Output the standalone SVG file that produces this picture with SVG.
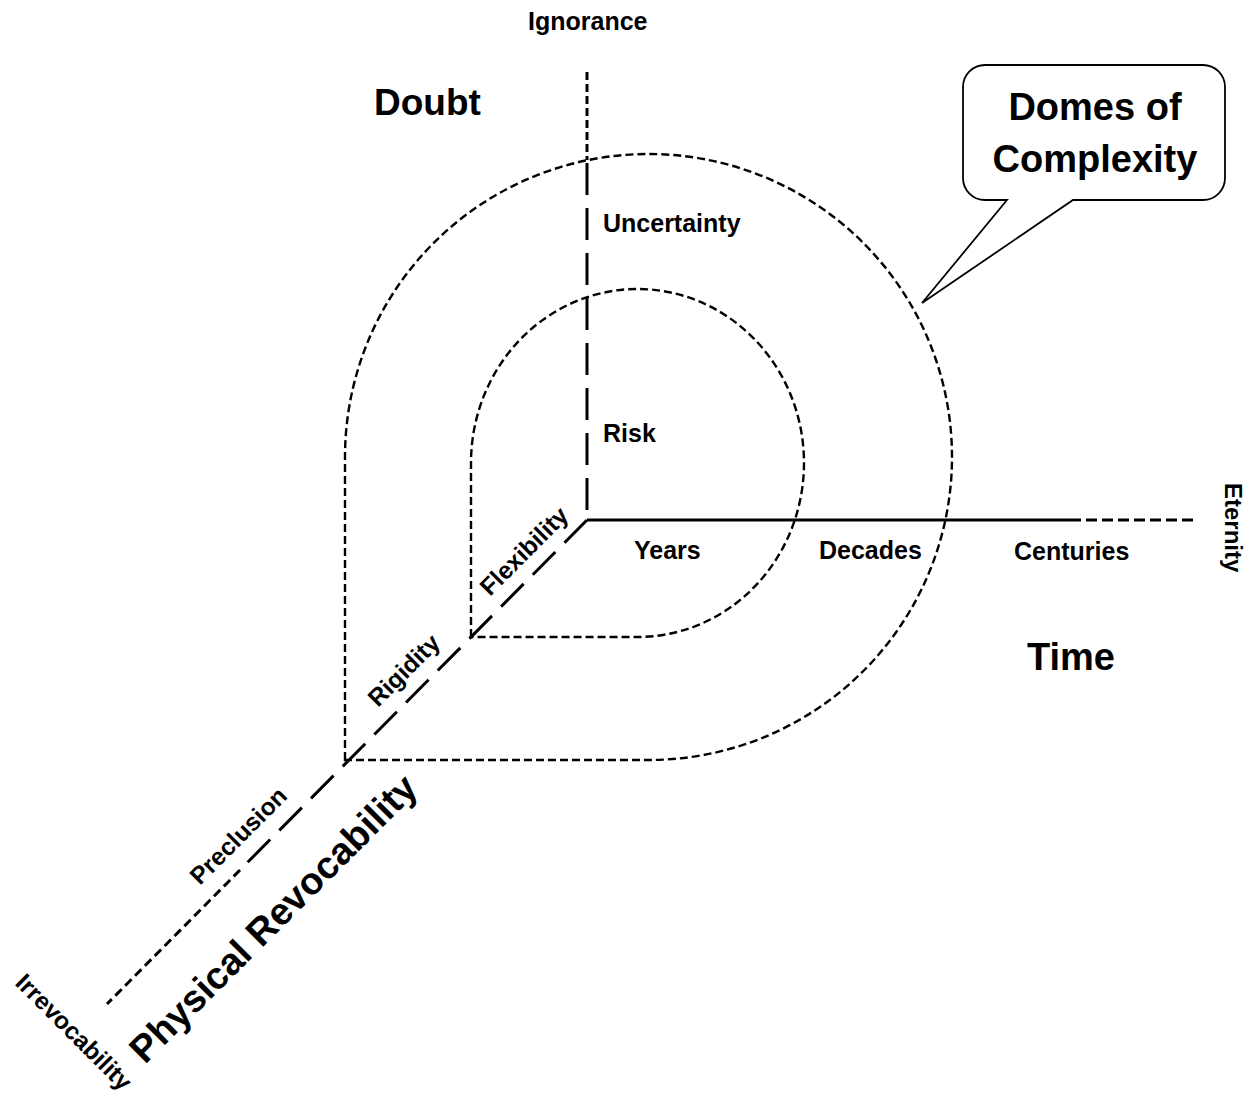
<svg xmlns="http://www.w3.org/2000/svg" width="1259" height="1100" viewBox="0 0 1259 1100">
  <style>
    text { font-family: "Liberation Sans", Arial, sans-serif; font-weight: bold; fill: #000; }
    .big { font-size: 38px; }
    .lbl { font-size: 25px; }
    .dlbl { font-size: 24.5px; }
    .axis { fill: none; stroke: #000; stroke-width: 3; }
    .fine { stroke-dasharray: 8 4; }
    .long { stroke-dasharray: 32 13; }
    .dome { fill: none; stroke: #000; stroke-width: 2.4; stroke-dasharray: 8 4; }
    .bubble { fill: #fff; stroke: #000; stroke-width: 1.8; }
  </style>
  <rect width="1259" height="1100" fill="#fff"/>

  <!-- complexity domes: circles with a squared corner on the flexibility axis -->
  <g id="domes">
    <path id="dome-outer" class="dome" d="M345,760 L345,457 A303.5,303 0 1 1 648.5,760 Z"/>
    <path id="dome-inner" class="dome" d="M471,637 L471,463 A166.5,174 0 1 1 637.5,637 Z"/>
  </g>

  <!-- three axes from the common origin -->
  <g id="connectors">
    <path class="axis fine" d="M587,72 L587,160"/>
    <path class="axis long" d="M587,163 L587,520"/>
    <path class="axis" d="M587,520 L1070,520"/>
    <path class="axis" style="stroke-dasharray: 11 5" d="M1070,520 L1197,520"/>
    <path class="axis long" d="M587,520 L240,870"/>
    <path class="axis" style="stroke-dasharray: 9 5" d="M240,870 L107,1004"/>
  </g>

  <!-- vertical axis: doubt -->
  <g id="doubt-axis">
    <text class="lbl" x="528" y="30">Ignorance</text>
    <text class="big" x="374" y="115" style="font-size:37px">Doubt</text>
    <text class="lbl" x="603" y="232">Uncertainty</text>
    <text class="lbl" x="603" y="442">Risk</text>
  </g>

  <!-- horizontal axis: time -->
  <g id="time-axis">
    <text class="lbl" x="634" y="559">Years</text>
    <text class="lbl" x="819" y="559">Decades</text>
    <text class="lbl" x="1014" y="560">Centuries</text>
    <text class="lbl" transform="translate(1225,483) rotate(90)" style="font-size:24px">Eternity</text>
    <text class="big" x="1027" y="670">Time</text>
  </g>

  <!-- diagonal axis: physical revocability -->
  <g id="revocability-axis">
    <text class="dlbl" transform="translate(490,597) rotate(-45)">Flexibility</text>
    <text class="dlbl" transform="translate(378,708) rotate(-45)">Rigidity</text>
    <text class="dlbl" transform="translate(200,886) rotate(-45)">Preclusion</text>
    <text class="dlbl" transform="translate(14,984) rotate(45)">Irrevocability</text>
    <text class="big" transform="translate(145,1065) rotate(-45)">Physical Revocability</text>
  </g>

  <!-- speech bubble pointing at the outer dome -->
  <g id="callout">
    <path class="bubble" d="M1007,200 L922,303 L1073,200 H1203 A22,22 0 0 0 1225,178 V87 A22,22 0 0 0 1203,65 H985 A22,22 0 0 0 963,87 V178 A22,22 0 0 0 985,200 Z"/>
    <text class="big" x="1095" y="120" text-anchor="middle">Domes of</text>
    <text class="big" x="1095" y="172" text-anchor="middle">Complexity</text>
  </g>
</svg>
